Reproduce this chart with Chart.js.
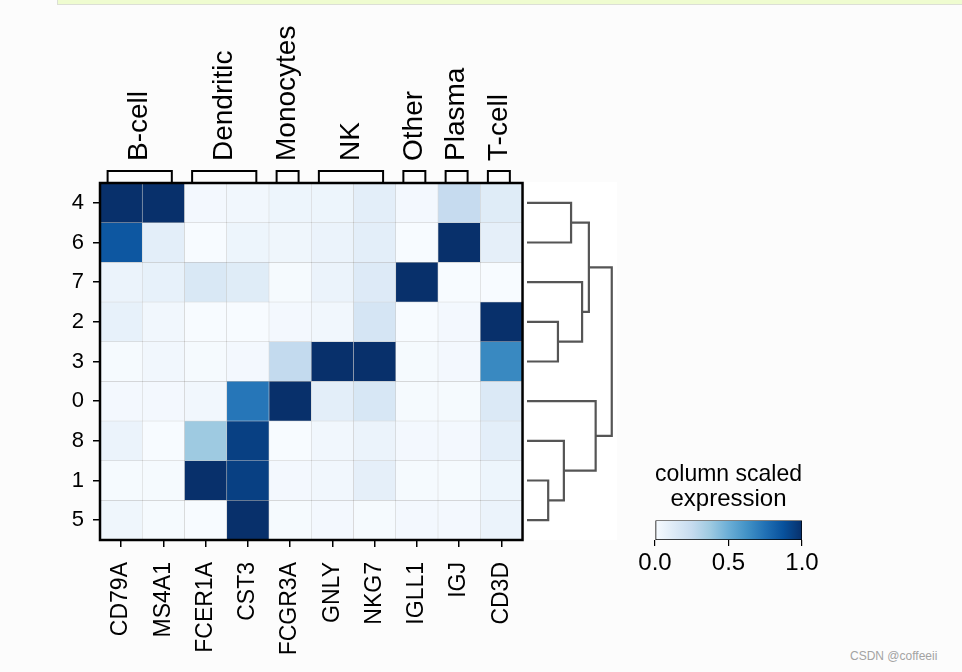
<!DOCTYPE html>
<html>
<head>
<meta charset="utf-8">
<script src="https://cdn.jsdelivr.net/npm/chart.js@4.4.1/dist/chart.umd.min.js"></script>
<style>
  body { margin: 0; width: 962px; height: 672px; overflow: hidden; position: relative; background: #fcfcfc; font-family: 'Liberation Sans', Arial, sans-serif; }
  #topbar { position: absolute; left: 57px; top: -1px; right: -2px; height: 4px; background: #effcd0; border: 1px solid #dcdfd6; }
  #dendroBg { position: absolute; left: 525px; top: 182px; width: 92px; height: 358px; background: #fff; }
  #mark { position: absolute; left: 850px; top: 649px; font-size: 12px; color: #a3a3a3; }
  canvas { position: absolute; }
</style>
</head>
<body>
<div id="topbar"></div>
<div id="dendroBg"></div>
<canvas id="heat" width="545" height="672" style="left:0;top:0"></canvas>
<canvas id="dendro" width="110" height="672" style="left:520px;top:0"></canvas>
<canvas id="cbar" width="257" height="150" style="left:600px;top:440px"></canvas>
<div id="mark">CSDN @coffeeii</div>
<script>
// clusters (rows, in dendrogram order) and marker genes (columns)
const rowLabels = ['4', '6', '7', '2', '3', '0', '8', '1', '5'];
const genes = ['CD79A', 'MS4A1', 'FCER1A', 'CST3', 'FCGR3A', 'GNLY', 'NKG7', 'IGLL1', 'IGJ', 'CD3D'];

// cell type groups over the gene columns
const groupNames = ['B-cell', 'Dendritic', 'Monocytes', 'NK', 'Other', 'Plasma', 'T-cell'];
const groupStart = [0, 2, 4, 5, 7, 8, 9];
const groupEnd   = [1, 3, 4, 6, 7, 8, 9];

// column scaled expression, one row per cluster
const values = [
  [1.00, 1.00, 0.02, 0.03, 0.05, 0.05, 0.10, 0.02, 0.25, 0.12],
  [0.85, 0.10, 0.00, 0.05, 0.04, 0.06, 0.10, 0.00, 1.00, 0.09],
  [0.06, 0.08, 0.15, 0.12, 0.01, 0.06, 0.13, 1.00, 0.00, 0.00],
  [0.08, 0.03, 0.00, 0.00, 0.02, 0.03, 0.17, 0.00, 0.02, 1.00],
  [0.01, 0.03, 0.01, 0.02, 0.26, 1.00, 1.00, 0.01, 0.02, 0.66],
  [0.02, 0.02, 0.03, 0.73, 1.00, 0.10, 0.16, 0.01, 0.01, 0.14],
  [0.06, 0.00, 0.375, 0.94, 0.00, 0.03, 0.06, 0.02, 0.02, 0.10],
  [0.01, 0.01, 1.00, 0.94, 0.02, 0.03, 0.09, 0.01, 0.01, 0.05],
  [0.04, 0.01, 0.00, 1.00, 0.01, 0.02, 0.01, 0.02, 0.02, 0.06]
];

// dendrogram: [child a, child b, height]; leaves are 0..8 (row positions), new nodes from 9
const links = [
  [0, 1, 0.52],
  [3, 4, 0.365],
  [2, 10, 0.65],
  [9, 11, 0.73],
  [7, 8, 0.25],
  [6, 13, 0.435],
  [5, 14, 0.81],
  [12, 15, 1.0]
];

const cbarTicks = [0, 0.5, 1];

// matplotlib "Blues"
const bluesStops = ['#f7fbff', '#deebf7', '#c6dbef', '#9ecae1', '#6baed6', '#4292c6', '#2171b5', '#08519c', '#08306b'];
function hex(h) { return [1, 3, 5].map(i => parseInt(h.slice(i, i + 2), 16)); }
function blues(v) {
  v = Math.max(0, Math.min(1, v));
  const p = v * (bluesStops.length - 1);
  const i = Math.min(Math.floor(p), bluesStops.length - 2);
  const t = p - i;
  const a = hex(bluesStops[i]), b = hex(bluesStops[i + 1]);
  const c = a.map((x, k) => Math.round(x + (b[k] - x) * t));
  return 'rgb(' + c.join(',') + ')';
}

Chart.defaults.font.family = "'Liberation Sans', Arial, sans-serif";
Chart.defaults.color = '#000';

const framePlugin = {
  id: 'frame',
  afterDatasetsDraw(chart) {
    const a = chart.chartArea, ctx = chart.ctx;
    ctx.save();
    ctx.strokeStyle = '#000';
    ctx.lineWidth = 2.5;
    ctx.strokeRect(a.left, a.top, a.right - a.left, a.bottom - a.top);
    ctx.restore();
  }
};

const groupPlugin = {
  id: 'groups',
  afterDraw(chart) {
    const xs = chart.scales.x, ctx = chart.ctx;
    const w = xs.getPixelForValue(1) - xs.getPixelForValue(0);
    const top = chart.chartArea.top;
    ctx.save();
    ctx.strokeStyle = '#000';
    ctx.lineWidth = 2;
    ctx.fillStyle = '#000';
    ctx.font = "28px 'Liberation Sans', Arial, sans-serif";
    groupNames.forEach((name, k) => {
      const a = xs.getPixelForValue(groupStart[k]) - w / 2 + 0.18 * w;
      const b = xs.getPixelForValue(groupEnd[k]) + w / 2 - 0.3 * w;
      ctx.beginPath();
      ctx.moveTo(a, top - 1);
      ctx.lineTo(a, top - 12);
      ctx.lineTo(b, top - 12);
      ctx.lineTo(b, top - 1);
      ctx.stroke();
      ctx.save();
      ctx.translate((a + b) / 2, top - 22);
      ctx.rotate(-Math.PI / 2);
      ctx.textAlign = 'left';
      ctx.textBaseline = 'middle';
      ctx.fillText(name, 0, 0);
      ctx.restore();
    });
    ctx.restore();
  }
};

new Chart(document.getElementById('heat'), {
  type: 'bar',
  data: {
    labels: genes,
    datasets: rowLabels.map((r, i) => ({
      label: r,
      data: genes.map(() => 1),
      backgroundColor: values[i].map(blues),
      borderColor: 'rgba(0,0,0,0.14)',
      borderWidth: 0.6,
      borderSkipped: false,
      barPercentage: 1,
      categoryPercentage: 1
    }))
  },
  options: {
    responsive: false,
    animation: false,
    layout: { padding: { top: 183, right: 20, left: 0, bottom: 0 } },
    plugins: { legend: { display: false }, tooltip: { enabled: false } },
    scales: {
      x: {
        stacked: true,
        grid: { offset: false, drawOnChartArea: false, tickLength: 7, color: '#000', lineWidth: 1.5 },
        border: { display: false },
        ticks: { minRotation: 90, maxRotation: 90, font: { size: 23 }, padding: 15, color: '#000' },
        afterFit(s) { s.height = 132; }
      },
      y: {
        stacked: true,
        reverse: true,
        min: 0,
        max: 9,
        afterBuildTicks(s) { s.ticks = rowLabels.map((_, i) => ({ value: i + 0.5 })); },
        ticks: { callback: (v, i) => rowLabels[i], font: { size: 22 }, padding: 9, color: '#000' },
        grid: { drawOnChartArea: false, tickLength: 7, color: '#000', lineWidth: 1.5 },
        border: { display: false },
        afterFit(s) { s.width = 100; }
      }
    }
  },
  plugins: [framePlugin, groupPlugin]
});

// dendrogram segments
const nodeY = rowLabels.map((_, i) => i + 0.5);
const nodeH = rowLabels.map(() => 0);
const dendroSets = links.map(([a, b, h]) => {
  const ya = nodeY[a], yb = nodeY[b];
  nodeY.push((ya + yb) / 2);
  nodeH.push(h);
  return {
    data: [{ x: nodeH[a], y: ya }, { x: h, y: ya }, { x: h, y: yb }, { x: nodeH[b], y: yb }],
    showLine: true,
    borderColor: '#555',
    borderWidth: 2.2,
    pointRadius: 0,
    clip: false
  };
});

new Chart(document.getElementById('dendro'), {
  type: 'scatter',
  data: { datasets: dendroSets },
  options: {
    responsive: false,
    animation: false,
    layout: { padding: { left: 7, right: 14, top: 183, bottom: 132 } },
    plugins: { legend: { display: false }, tooltip: { enabled: false } },
    scales: {
      x: { display: false, min: 0, max: 1.05 },
      y: { display: false, min: 0, max: 9, reverse: true }
    }
  }
});

// colorbar
new Chart(document.getElementById('cbar'), {
  type: 'bar',
  data: {
    labels: [''],
    datasets: [{
      data: [[0, 1]],
      backgroundColor(c) {
        const a = c.chart.chartArea;
        if (!a) return bluesStops[0];
        const g = c.chart.ctx.createLinearGradient(a.left, 0, a.right, 0);
        bluesStops.forEach((col, i) => g.addColorStop(i / (bluesStops.length - 1), col));
        return g;
      },
      borderColor: '#000',
      borderWidth: 1,
      borderSkipped: false,
      barPercentage: 1,
      categoryPercentage: 1
    }]
  },
  options: {
    indexAxis: 'y',
    responsive: false,
    animation: false,
    layout: { padding: { left: 55, right: 55, top: 22, bottom: 0 } },
    plugins: {
      legend: { display: false },
      tooltip: { enabled: false },
      title: {
        display: true,
        text: ['column scaled', 'expression'],
        color: '#000',
        font: { size: 24, weight: 'normal', lineHeight: 1.05 },
        padding: { top: 0, bottom: 8 }
      }
    },
    scales: {
      x: {
        min: 0,
        max: 1,
        afterBuildTicks(s) { s.ticks = cbarTicks.map(v => ({ value: v })); },
        ticks: { callback: v => v.toFixed(1), font: { size: 24 }, padding: 3, color: '#000' },
        grid: { drawOnChartArea: false, tickLength: 6, color: '#000', lineWidth: 1.2 },
        border: { display: false },
        afterFit(s) { s.height = 50; }
      },
      y: { display: false }
    }
  }
});
</script>
</body>
</html>
